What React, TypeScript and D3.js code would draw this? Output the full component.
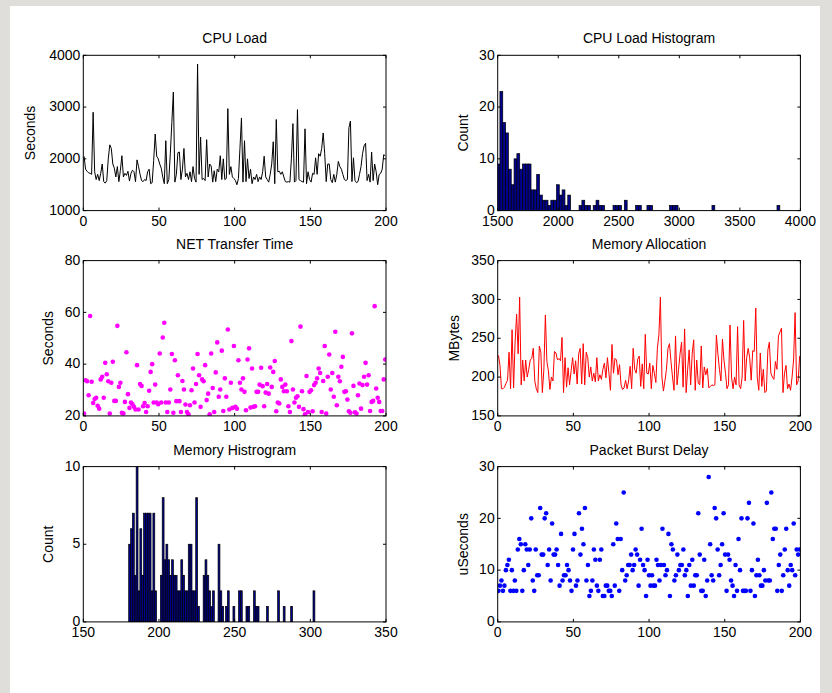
import React from "react";
import * as d3 from "d3";

const W = 832;
const H = 693;
const FONT = "'Liberation Sans', Arial, Helvetica, sans-serif";

// ---- CPU Load (seconds), 200 samples ----
const cpuLoad = [
  2050, 1800, 1760, 1730, 1720, 1700, 2900, 1750, 1600, 1700,
  1580, 1720, 1900, 1560, 1530, 1580, 2000, 2270, 2200, 1900,
  1820, 1650, 1850, 1560, 1780, 2060, 1650, 1720, 1680, 1760,
  1570, 1720, 1780, 1750, 1560, 1980, 1850, 1700, 1580, 1560,
  1600, 1580, 1750, 1800, 1520, 1540, 1970, 2480, 2050, 2000,
  1900, 1820, 1650, 1520, 2350, 1520, 1600, 2100, 2700, 3290,
  1550, 1700, 2120, 2130, 1600, 1800, 2200, 1650, 1720, 1600,
  1750, 1560, 1850, 1620, 1550, 3830, 1700, 2420, 1600, 1620,
  1580, 2370, 1650, 1900, 1860, 1550, 1770, 1560, 1800, 1750,
  2060, 1600, 2000, 1600, 1620, 2970, 1700, 1850, 1650, 1620,
  1580, 1500, 1620, 2200, 2790, 1550, 2350, 1560, 2000, 1620,
  1800, 1520, 1650, 1600, 1700, 1560, 1650, 1600, 1750, 2050,
  1650, 1600, 1550, 1700, 1900, 2330, 1520, 2760, 1750, 1760,
  1700, 1750, 1650, 1560, 1550, 1560, 1550, 2000, 2680, 1550,
  1580, 2950, 1600, 1580, 1560, 1550, 2580, 1520, 1750, 1600,
  1550, 1720, 1700, 2020, 1700, 2100, 2050, 2200, 2500, 2100,
  1560, 1900, 1900, 1600, 1540, 1700, 1550, 1700, 1950, 1850,
  1800, 1700, 1600, 1580, 1600, 2600, 2730, 1560, 2020, 1580,
  1540, 1560, 1700, 1850, 2100, 2250, 2300, 1580, 1700, 1550,
  2130, 1580, 1900, 1750, 1500, 1700, 1720, 1800, 2080, 2060,
];

// ---- CPU Load histogram (100 bins) ----
const cpuHistStart = 1495;
const cpuHistBinWidth = 23.35;
const cpuHistCounts = [
  9, 23, 17, 15, 8, 5, 10, 11, 8, 9,
  9, 9, 4, 4, 7, 3, 2, 2, 1, 2,
  2, 5, 3, 4, 1, 3, 0, 0, 0, 1,
  2, 1, 1, 0, 1, 2, 1, 1, 0, 0,
  0, 1, 1, 1, 0, 2, 0, 0, 0, 1,
  1, 0, 0, 1, 1, 0, 0, 0, 0, 0,
  0, 1, 1, 1, 0, 0, 0, 0, 0, 0,
  0, 0, 0, 0, 0, 0, 1, 0, 0, 0,
  0, 0, 0, 0, 0, 0, 0, 0, 0, 0,
  0, 0, 0, 0, 0, 0, 0, 0, 0, 1,
];

// ---- NET Transfer Time (seconds) ----
const netTransfer = [
  20.9, 33.8, 33.4, 28, 58.6, 33.2, 25, 26.5, 27, 23.9,
  22.8, 34.1, 35.1, 27, 40.5, 36.1, 33.4, 20.9, 32.8, 40.9,
  25.8, 25.8, 54.8, 31.2, 32.8, 21.2, 20.9, 25.4, 44.6, 28.4,
  23.1, 25.2, 24.5, 23.5, 22.5, 39.6, 22.5, 32.3, 31.6, 23.7,
  25, 21.5, 23.7, 29.7, 37, 40, 25.2, 32.1, 25.2, 24.5,
  44.1, 25.2, 50.3, 56, 25.2, 21.5, 25.2, 30.2, 43.9, 21.2,
  41.5, 25.7, 35.7, 25.7, 21.5, 33.5, 30.2, 24.4, 21.5, 20.6,
  24.1, 29.9, 38.3, 25.2, 32.3, 43.9, 35.7, 23.5, 34.1, 33.4,
  39.6, 26.1, 28.6, 20.6, 44.1, 30.8, 21.5, 36.8, 48.4, 27.4,
  30.2, 45.2, 21.9, 34.5, 27.4, 53.4, 22.5, 32.8, 23.1, 47,
  23.5, 22.8, 41.5, 32.8, 30.2, 34.5, 29.3, 22.2, 41.8, 46.1,
  23.2, 38.3, 23.5, 23.7, 29.3, 29.3, 32.1, 38.6, 31.5, 23.7,
  29, 32.3, 28.6, 38.7, 31.2, 37, 41.2, 21.8, 25.2, 24.8,
  34.1, 31.2, 29.5, 32.1, 29.5, 23.7, 21.5, 48.9, 30.2, 25.2,
  27, 27.6, 23.5, 54.5, 29.5, 22.6, 20.6, 35.4, 21.5, 29.3,
  29.9, 21.8, 31.9, 32.8, 34.5, 38.3, 36.6, 21.5, 33.5, 47,
  20.9, 35.1, 43.7, 30.2, 36.6, 27.4, 52.5, 24.1, 35.1, 33.4,
  39, 42.8, 29.3, 29.5, 26.3, 21.8, 21.2, 51.9, 31.6, 21.4,
  20.9, 28, 32.5, 22.8, 31.9, 35.1, 40.5, 32.1, 35.7, 21.9,
  25.4, 25.8, 62.4, 30.6, 27, 25.4, 21.9, 21.9, 34.1, 41.8,
];

// ---- Memory Allocation (MBytes) ----
const memAlloc = [
  228, 215, 185, 185, 187, 192, 196, 232, 185, 261,
  186, 245, 281, 230, 303, 190, 222, 195, 222, 200,
  210, 222, 224, 237, 195, 185, 180, 240, 232, 180,
  210, 280, 220, 208, 184, 200, 195, 233, 231, 222,
  224, 221, 251, 180, 225, 187, 212, 190, 208, 225,
  204, 221, 191, 230, 237, 191, 243, 190, 232, 225,
  200, 213, 195, 205, 194, 225, 195, 203, 197, 210,
  218, 199, 225, 205, 183, 242, 205, 224, 222, 203,
  216, 190, 184, 186, 196, 185, 195, 214, 185, 237,
  210, 205, 223, 227, 188, 217, 185, 255, 205, 204,
  218, 185, 215, 205, 193, 237, 254, 303, 200, 182,
  195, 210, 237, 243, 220, 200, 183, 253, 190, 210,
  230, 245, 187, 262, 180, 210, 235, 190, 230, 248,
  183, 222, 192, 190, 240, 186, 213, 203, 211, 186,
  188, 190, 189, 190, 254, 230, 210, 195, 249, 222,
  205, 185, 190, 267, 200, 185, 200, 190, 265, 190,
  185, 200, 273, 195, 225, 237, 225, 196, 234, 233,
  289, 200, 183, 231, 188, 210, 180, 182, 235, 245,
  205, 200, 197, 220, 210, 253, 258, 263, 180, 205,
  215, 185, 191, 183, 200, 222, 283, 190, 195, 227,
];

// ---- Memory histogram (100 bins) ----
const memHistStart = 180;
const memHistBinWidth = 1.23;
const memHistCounts = [
  5, 6, 7, 3, 10, 2, 6, 3, 7, 7,
  7, 7, 2, 7, 2, 0, 0, 3, 8, 4,
  5, 4, 3, 4, 3, 3, 2, 2, 4, 3,
  2, 2, 5, 5, 2, 2, 8, 1, 0, 0,
  3, 4, 3, 2, 1, 2, 0, 0, 5, 2,
  1, 0, 1, 2, 0, 0, 1, 0, 0, 2,
  2, 0, 0, 1, 1, 0, 0, 2, 1, 1,
  0, 0, 0, 0, 1, 0, 0, 0, 0, 0,
  2, 0, 0, 1, 0, 0, 0, 1, 0, 0,
  0, 0, 0, 0, 0, 0, 0, 0, 0, 2,
];

// ---- Packet Burst Delay (uSeconds) ----
const packetDelay = [
  6, 7, 8, 6, 7, 10, 11, 12, 6, 10,
  6, 8, 6, 14, 16, 15, 6, 10, 15, 14,
  11, 14, 20, 8, 6, 14, 9, 9, 22, 13,
  13, 20, 21, 11, 14, 8, 19, 13, 13, 14,
  11, 7, 17, 8, 9, 9, 11, 10, 8, 6,
  14, 17, 7, 8, 21, 13, 18, 15, 22, 8,
  11, 5, 6, 8, 14, 12, 7, 6, 12, 14,
  5, 5, 7, 7, 6, 6, 5, 15, 7, 19,
  16, 6, 16, 10, 25, 8, 9, 11, 11, 13,
  10, 11, 14, 13, 7, 12, 18, 11, 10, 5,
  12, 9, 7, 9, 7, 7, 12, 11, 8, 11,
  18, 11, 9, 10, 17, 5, 15, 14, 8, 9,
  13, 10, 11, 11, 14, 9, 10, 5, 11, 7,
  12, 7, 9, 9, 21, 13, 6, 6, 12, 5,
  8, 28, 15, 9, 8, 22, 20, 14, 9, 11,
  15, 21, 13, 6, 13, 12, 8, 7, 5, 11,
  6, 16, 10, 20, 6, 6, 6, 20, 23, 6,
  10, 19, 5, 9, 12, 9, 7, 7, 10, 8,
  23, 8, 8, 25, 16, 18, 18, 6, 11, 13,
  6, 9, 14, 18, 10, 7, 11, 10, 19, 9,
  14, 13, 14,
];

// ---- Axis ticks ----
const indexTicks = [0, 50, 100, 150, 200];
const cpuTicks = [1000, 2000, 3000, 4000];
const cpuHistXTicks = [1500, 2000, 2500, 3000, 3500, 4000];
const cpuHistYTicks = [0, 10, 20, 30];
const netTicks = [20, 40, 60, 80];
const memTicks = [150, 200, 250, 300, 350];
const memHistXTicks = [150, 200, 250, 300, 350];
const memHistYTicks = [0, 5, 10];
const pktTicks = [0, 10, 20, 30];

type Box = { x: number; y: number; w: number; h: number };
type Scale = d3.ScaleLinear<number, number>;

function Panel(props: {
  id: string;
  box: Box;
  xDomain: [number, number];
  yDomain: [number, number];
  xTicks: number[];
  yTicks: number[];
  title: string;
  ylabel: string;
  render: (x: Scale, y: Scale) => React.ReactNode;
}) {
  const { id, box, xDomain, yDomain, xTicks, yTicks, title, ylabel, render } = props;
  const x = d3.scaleLinear().domain(xDomain).range([box.x, box.x + box.w]);
  const y = d3.scaleLinear().domain(yDomain).range([box.y + box.h, box.y]);
  const tl = 3;
  const bottom = box.y + box.h;
  const right = box.x + box.w;
  const maxChars = d3.max(yTicks, (t) => String(t).length) || 2;
  const ylabOffset = maxChars * 9 + 12;
  return (
    <g>
      <defs>
        <clipPath id={id}>
          <rect x={box.x} y={box.y} width={box.w} height={box.h} />
        </clipPath>
      </defs>
      <g clipPath={`url(#${id})`}>{render(x, y)}</g>
      <rect x={box.x} y={box.y} width={box.w} height={box.h} fill="none" stroke="#000" strokeWidth={1} />
      {xTicks.map((t) => (
        <g key={"xt" + t}>
          <line x1={x(t)} x2={x(t)} y1={bottom} y2={bottom - tl} stroke="#000" />
          <line x1={x(t)} x2={x(t)} y1={box.y} y2={box.y + tl} stroke="#000" />
          <text x={x(t)} y={bottom + 15} textAnchor="middle" fontSize={14} fontFamily={FONT} fill="#000">
            {t}
          </text>
        </g>
      ))}
      {yTicks.map((t) => (
        <g key={"yt" + t}>
          <line x1={box.x} x2={box.x + tl} y1={y(t)} y2={y(t)} stroke="#000" />
          <line x1={right} x2={right - tl} y1={y(t)} y2={y(t)} stroke="#000" />
          <text x={box.x - 3} y={y(t)} dy="0.3em" textAnchor="end" fontSize={14} fontFamily={FONT} fill="#000">
            {t}
          </text>
        </g>
      ))}
      <text x={box.x + box.w / 2} y={box.y - 12} textAnchor="middle" fontSize={14} fontFamily={FONT} fill="#000">
        {title}
      </text>
      <text
        transform={`translate(${box.x - ylabOffset},${box.y + box.h / 2}) rotate(-90)`}
        textAnchor="middle"
        fontSize={14}
        fontFamily={FONT}
        fill="#000"
      >
        {ylabel}
      </text>
    </g>
  );
}

const idx = (i: number, n: number) => ((i + 0.5) * 200) / n;

function histBars(counts: number[], start: number, bw: number, x: Scale, y: Scale) {
  return counts.map((c, i) =>
    c > 0 ? (
      <rect
        key={i}
        x={x(start + i * bw)}
        y={y(c)}
        width={x(start + (i + 1) * bw) - x(start + i * bw)}
        height={y(0) - y(c)}
        fill="#00008c"
        stroke="#000"
        strokeWidth={0.7}
      />
    ) : null
  );
}

export default function App() {
  const colL = 83.3;
  const colR = 497.7;
  const pw = 302.7;
  const ph = 155.3;
  const rows = [55.3, 260.6, 466.6];

  return (
    <div style={{ position: "absolute", left: 0, top: 0 }}>
      <svg width={W} height={H} style={{ display: "block" }}>
        <rect x={0} y={0} width={W} height={H} fill="#dfdedb" />
        <rect x={10} y={6} width={810} height={H - 6} fill="#ffffff" />

        <Panel
          id="c1"
          box={{ x: colL, y: rows[0], w: pw, h: ph }}
          xDomain={[0, 200]}
          yDomain={[1000, 4000]}
          xTicks={indexTicks}
          yTicks={cpuTicks}
          title="CPU Load"
          ylabel="Seconds"
          render={(x, y) => {
            const line = d3
              .line<number>()
              .x((_, i) => x(idx(i, cpuLoad.length)))
              .y((d) => y(d));
            return <path d={line(cpuLoad) || ""} fill="none" stroke="#000" strokeWidth={1} />;
          }}
        />

        <Panel
          id="c2"
          box={{ x: colR, y: rows[0], w: pw, h: ph }}
          xDomain={[1500, 4000]}
          yDomain={[0, 30]}
          xTicks={cpuHistXTicks}
          yTicks={cpuHistYTicks}
          title="CPU Load Histogram"
          ylabel="Count"
          render={(x, y) => histBars(cpuHistCounts, cpuHistStart, cpuHistBinWidth, x, y)}
        />

        <Panel
          id="c3"
          box={{ x: colL, y: rows[1], w: pw, h: ph }}
          xDomain={[0, 200]}
          yDomain={[20, 80]}
          xTicks={indexTicks}
          yTicks={netTicks}
          title="NET Transfer Time"
          ylabel="Seconds"
          render={(x, y) =>
            netTransfer.map((d, i) => (
              <circle key={i} cx={x(idx(i, netTransfer.length))} cy={y(d)} r={2.3} fill="#ff00ff" />
            ))
          }
        />

        <Panel
          id="c4"
          box={{ x: colR, y: rows[1], w: pw, h: ph }}
          xDomain={[0, 200]}
          yDomain={[150, 350]}
          xTicks={indexTicks}
          yTicks={memTicks}
          title="Memory Allocation"
          ylabel="MBytes"
          render={(x, y) => {
            const line = d3
              .line<number>()
              .x((_, i) => x(idx(i, memAlloc.length)))
              .y((d) => y(d));
            return <path d={line(memAlloc) || ""} fill="none" stroke="#ff0000" strokeWidth={1} />;
          }}
        />

        <Panel
          id="c5"
          box={{ x: colL, y: rows[2], w: pw, h: ph }}
          xDomain={[150, 350]}
          yDomain={[0, 10]}
          xTicks={memHistXTicks}
          yTicks={memHistYTicks}
          title="Memory Histrogram"
          ylabel="Count"
          render={(x, y) => histBars(memHistCounts, memHistStart, memHistBinWidth, x, y)}
        />

        <Panel
          id="c6"
          box={{ x: colR, y: rows[2], w: pw, h: ph }}
          xDomain={[0, 200]}
          yDomain={[0, 30]}
          xTicks={indexTicks}
          yTicks={pktTicks}
          title="Packet Burst Delay"
          ylabel="uSeconds"
          render={(x, y) =>
            packetDelay.map((d, i) => (
              <circle key={i} cx={x(idx(i, packetDelay.length))} cy={y(d)} r={2.3} fill="#0000ff" />
            ))
          }
        />
      </svg>
    </div>
  );
}
